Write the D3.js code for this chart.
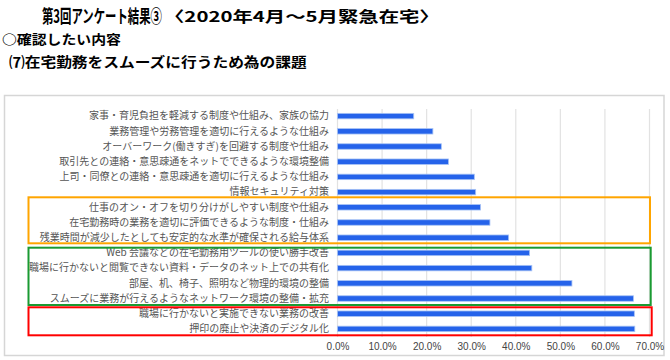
<!DOCTYPE html>
<html><head><meta charset="utf-8">
<script src="https://cdn.jsdelivr.net/npm/d3@7/dist/d3.min.js"></script>
<style>
html,body{margin:0;padding:0;background:#fff;}
svg{display:block;font-family:"Noto Sans CJK JP","Noto Sans",sans-serif;}
</style></head>
<body>
<svg id="c" width="670" height="360"></svg>
<script>
const categories = [
  "家事・育児負担を軽減する制度や仕組み、家族の協力",
  "業務管理や労務管理を適切に行えるような仕組み",
  "オーバーワーク(働きすぎ)を回避する制度や仕組み",
  "取引先との連絡・意思疎通をネットでできるような環境整備",
  "上司・同僚との連絡・意思疎通を適切に行えるような仕組み",
  "情報セキュリティ対策",
  "仕事のオン・オフを切り分けがしやすい制度や仕組み",
  "在宅勤務時の業務を適切に評価できるような制度・仕組み",
  "残業時間が減少したとしても安定的な水準が確保される給与体系",
  "Web 会議などの在宅勤務用ツールの使い勝手改善",
  "職場に行かないと閲覧できない資料・データのネット上での共有化",
  "部屋、机、椅子、照明など物理的環境の整備",
  "スムーズに業務が行えるようなネットワーク環境の整備・拡充",
  "職場に行かないと実施できない業務の改善",
  "押印の廃止や決済のデジタル化"
];
const values = [17.1, 21.4, 23.3, 24.9, 30.7, 31.0, 32.1, 34.2, 38.4, 43.1, 43.6, 52.6, 66.4, 66.6, 66.7];
const tickValues = [0, 10, 20, 30, 40, 50, 60, 70];
const groups = [
  {from: 6, to: 8, color: "#ffa500"},
  {from: 9, to: 12, color: "#1a9a32"},
  {from: 13, to: 14, color: "#ff0000"}
];
const headerTexts = [
  "第3回アンケート結果③",
  "〈2020年4月～5月緊急在宅〉",
  "○確認したい内容",
  "⑺在宅勤務をスムーズに行うため為の課題"
];

const svg = d3.select("#c");

// Header texts, fitted horizontally with a scale transform
const headerStyle = [
  {x: 42, y: 23, size: 18, w: 120},
  {x: 164, y: 22, size: 14.5, w: 276},
  {x: 2, y: 44, size: 13, w: 119},
  {x: 9, y: 67, size: 13.5, w: 298}
];
headerTexts.forEach((t, i) => {
  const s = headerStyle[i];
  const el = svg.append("text").attr("x", 0).attr("y", 0)
    .attr("font-size", s.size).attr("font-weight", "bold").attr("fill", "#000").text(t);
  const nat = el.node().getComputedTextLength();
  el.attr("transform", `translate(${s.x},${s.y}) scale(${s.w / nat},1)`);
});

// Frame
svg.append("rect").attr("x", 4.5).attr("y", 95.5).attr("width", 659.5).attr("height", 260)
  .attr("fill", "none").attr("stroke", "#d6d6d6").attr("stroke-width", 1.5);

const x = d3.scaleLinear().domain([0, 70]).range([337.5, 649.5]);
const y = d3.scaleBand().domain(categories).range([108.5, 336.5]).paddingInner(0.64).paddingOuter(0.32);

// gridlines
svg.append("g").selectAll("line").data(tickValues).join("line")
  .attr("x1", d => x(d)).attr("x2", d => x(d)).attr("y1", 109).attr("y2", 337)
  .attr("stroke", "#e2e2e2").attr("stroke-width", 1.2);

// axis labels
const xAxis = d3.axisBottom(x).tickValues(tickValues).tickSize(0).tickPadding(0)
  .tickFormat(d => d.toFixed(1) + "%");
const gx = svg.append("g").attr("transform", "translate(0,341)").call(xAxis);
gx.select(".domain").remove();
gx.selectAll("text").attr("font-size", 10).attr("fill", "#444").attr("dy", "0.9em")
  .attr("font-family", "\"Liberation Sans\",Arial,sans-serif");

// category labels
const yAxis = d3.axisLeft(y).tickSize(0).tickPadding(0);
const gy = svg.append("g").attr("transform", "translate(329,0)").call(yAxis);
gy.select(".domain").remove();
gy.selectAll("text").attr("font-size", 10).attr("fill", "#555")
  .attr("font-family", "\"Noto Sans CJK JP\",sans-serif");

// bars
svg.append("g").selectAll("rect").data(values).join("rect")
  .attr("x", x(0)).attr("y", (d, i) => y(categories[i]))
  .attr("width", d => x(d) - x(0)).attr("height", y.bandwidth())
  .attr("fill", "#2563ea").attr("stroke", "#a8c3f5").attr("stroke-width", 0.8);

// group boxes (offsets relative to bar centres)
const boxPad = [[10, 5.6, 650], [5.2, 6.5, 650.7], [6.4, 6.4, 651.7]];
const cy = c => y(c) + y.bandwidth() / 2;
svg.append("g").selectAll("rect").data(groups).join("rect")
  .attr("x", 28.5)
  .attr("y", (g, i) => cy(categories[g.from]) - boxPad[i][0])
  .attr("width", (g, i) => boxPad[i][2] - 28.5)
  .attr("height", (g, i) => cy(categories[g.to]) - cy(categories[g.from]) + boxPad[i][0] + boxPad[i][1])
  .attr("fill", "none").attr("stroke", g => g.color).attr("stroke-width", 2);
</script>
</body></html>
